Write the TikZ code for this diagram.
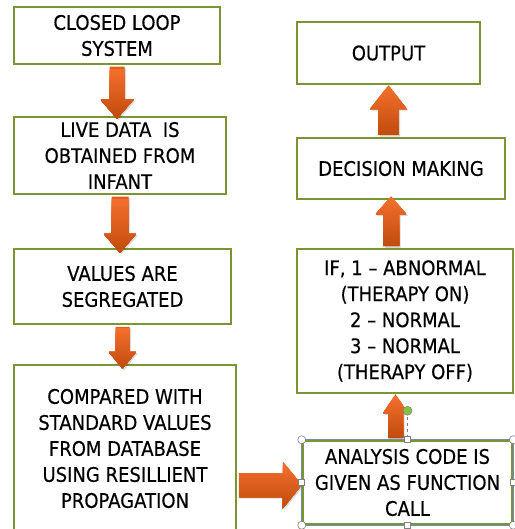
\documentclass[tikz,border=0pt]{standalone}
\usepackage{fontspec}
\setmainfont[FakeStretch=0.9,FakeBold=0.4]{DejaVu Sans}
\usetikzlibrary{calc}

\definecolor{olivebox}{RGB}{122,150,50}
\definecolor{arrowtop}{RGB}{245,112,46}
\definecolor{arrowbot}{RGB}{194,76,14}
\definecolor{selblue}{RGB}{112,140,180}
\definecolor{rotgreen}{RGB}{128,196,66}

% block arrow: #1 shaft half width, #2 head half width, #3 head length, #4 tail, #5 tip
\newcommand\fatarrow[5]{%
  \coordinate (fa-a) at #4;
  \coordinate (fa-b) at #5;
  \coordinate (fa-h) at ($(fa-b)!#3pt!(fa-a)$);
  \path[fatarrow] ($(fa-a)!#1pt!90:(fa-b)$) -- ($(fa-h)!#1pt!90:(fa-b)$)
    -- ($(fa-h)!#2pt!90:(fa-b)$) -- (fa-b) -- ($(fa-h)!#2pt!-90:(fa-b)$)
    -- ($(fa-h)!#1pt!-90:(fa-b)$) -- ($(fa-a)!#1pt!-90:(fa-b)$) -- cycle;}

\begin{document}
\begin{tikzpicture}[x=1pt,y=-1pt,
  box/.style={draw=olivebox, line width=2.5pt, fill=white, align=center, inner sep=0pt,
    font=\fontsize{20}{26}\selectfont},
  % orange fill that darkens towards the bottom, in overlapping bands
  fatarrow/.style={fill=arrowbot!45!arrowtop,
    preaction={fill=black, opacity=0.15, transform canvas={xshift=1.5pt, yshift=-1.5pt}},
    path picture={
    \foreach \i in {1,...,24}{
      \pgfmathsetmacro\p{100*\i/24}
      \fill[arrowbot!\p!arrowtop]
        ($(path picture bounding box.north west)!\i/25!(path picture bounding box.south west)$)
        rectangle (path picture bounding box.south east);}}},
  handle/.style={draw=gray, fill=white, line width=0.6pt},
]
\useasboundingbox (0,0) rectangle (514,529);

% left column
\node[box, minimum width=206, minimum height=57] (closed) at (117,35.5) {CLOSED LOOP\\SYSTEM};
\node[box, minimum width=212, minimum height=77] (live) at (120,155.5) {LIVE DATA \ IS\\OBTAINED FROM\\INFANT};
\node[box, minimum width=217, minimum height=75] (values) at (122.5,286.5) {VALUES ARE\\SEGREGATED};
\node[box, minimum width=222, minimum height=167] (compared) at (125,448.5)
  {COMPARED WITH\\STANDARD VALUES\\FROM DATABASE\\USING RESILLIENT\\PROPAGATION};

% right column
\node[box, minimum width=183, minimum height=62] (output) at (388.5,53) {OUTPUT};
\node[box, minimum width=208, minimum height=61] (decision) at (401,168.5) {DECISION MAKING};
\node[box, minimum width=216, minimum height=144] (ifbox) at (405,321)
  {IF, 1 – ABNORMAL\\(THERAPY ON)\\2 – NORMAL\\3 – NORMAL\\(THERAPY OFF)};
\node[box, minimum width=209, minimum height=83] (analysis) at (407.5,482.5)
  {ANALYSIS CODE IS\\GIVEN AS FUNCTION\\CALL};

% arrows
\fatarrow{7.5}{16.5}{19}{([yshift=-1.5pt]closed.south)}{([yshift=-3pt]closed.south |- live.north)}
\fatarrow{8.5}{16.5}{19}{([yshift=-1.5pt]live.south)}{([yshift=-5pt]live.south |- values.north)}
\fatarrow{7}{14}{17}{([yshift=-1.5pt]values.south)}{([yshift=-5pt]values.south |- compared.north)}
\fatarrow{12}{23.5}{19}{([xshift=1.5pt,yshift=-2.5pt]compared.east |- analysis.west)}{([yshift=-2.5pt]analysis.west)}
\fatarrow{7.5}{12.5}{19}{([xshift=-12pt,yshift=1.5pt]analysis.north)}{([xshift=-12pt]analysis.north |- ifbox.south)}
\fatarrow{8}{15.5}{18}{([xshift=-14pt,yshift=1.5pt]ifbox.north)}{([xshift=-14pt,yshift=4pt]ifbox.north |- decision.south)}
\fatarrow{10}{18.5}{24}{([yshift=1.5pt]output.south |- decision.north)}{(output.south)}

% selection handles round the analysis box
\draw[selblue, line width=0.6pt] (analysis.north west) rectangle (analysis.south east);
\coordinate (rot) at ($(analysis.north)+(0,-29)$);
\draw[gray, dashed, line width=0.5pt] (rot) -- (analysis.north);
\foreach \a in {north west,north east,south west,south east}
  \draw[handle] (analysis.\a) circle (4);
\foreach \a in {north,south,east,west}
  \draw[handle] ($(analysis.\a)+(-3,-3)$) rectangle ++(6,6);
\draw[draw=gray, fill=rotgreen, line width=0.5pt] (rot) circle (4.5);
\end{tikzpicture}
\end{document}
